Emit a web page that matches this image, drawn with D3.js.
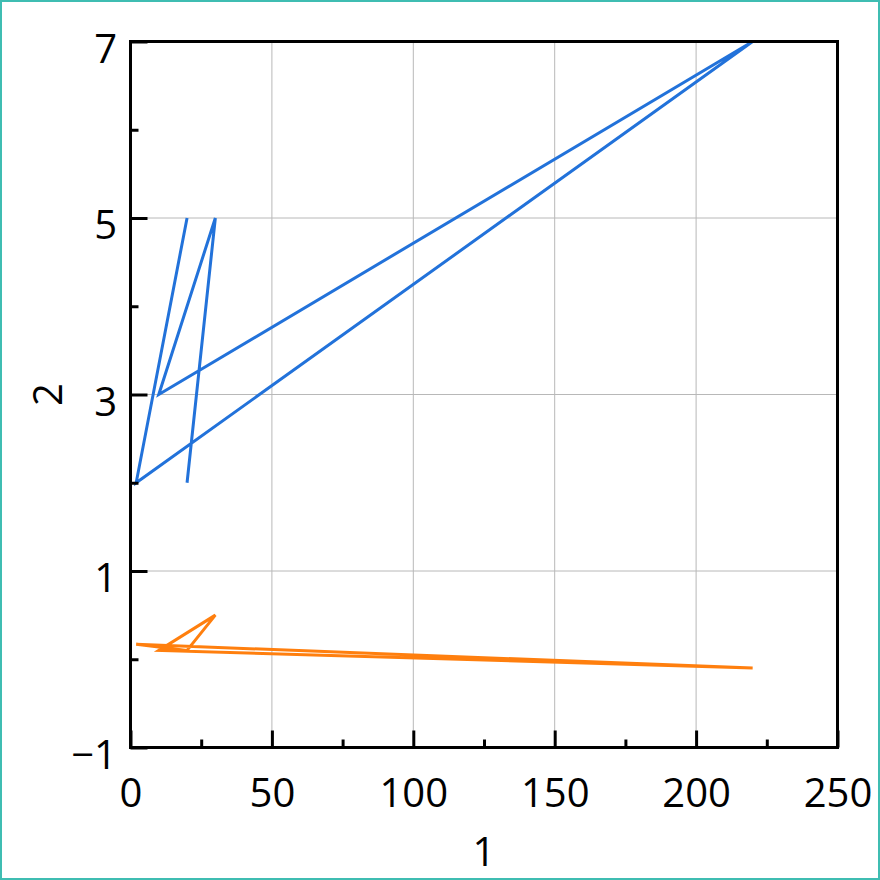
<!DOCTYPE html>
<html>
<head>
<meta charset="utf-8">
<script src="https://cdn.jsdelivr.net/npm/d3@7"></script>
<style>
  html, body { margin: 0; padding: 0; background: #fff; }
  svg { display: block; }
</style>
</head>
<body>
<div id="chart"></div>
<script>
// series data
const xValues = [20, 30, 10, 220, 2, 20];
const blueValues = [2, 5, 3, 7, 2, 5];
const orangeValues = [0.1, 0.5, 0.1, -0.1, 0.17, 0.1];

const xTicks = [0, 50, 100, 150, 200, 250];
const xMinorTicks = [25, 75, 125, 175, 225];
const yTicks = [-1, 1, 3, 5, 7];
const yMinorTicks = [0, 2, 4, 6];
const xTitle = "1";
const yTitle = "2";

const width = 880, height = 880;
const svg = d3.select("#chart").append("svg")
    .attr("width", width).attr("height", height);

// outer teal frame
svg.append("rect")
    .attr("x", 1).attr("y", 1)
    .attr("width", width - 2).attr("height", height - 2)
    .attr("fill", "#fff")
    .attr("stroke", "#3fbdb2")
    .attr("stroke-width", 2);

const x = d3.scaleLinear().domain([0, 250]).range([130.5, 837.5]);
const y = d3.scaleLinear().domain([-1, 7]).range([747.5, 41.5]);

const font = "'Open Sans', 'Noto Sans', sans-serif";

// grid
const grid = svg.append("g");
grid.selectAll("line.gx").data(xTicks.filter(d => d > 0 && d < 250)).enter()
    .append("line")
    .attr("x1", d => x(d)).attr("x2", d => x(d))
    .attr("y1", y(7)).attr("y2", y(-1))
    .attr("stroke", "#b8b8b8").attr("stroke-width", 1);
grid.selectAll("line.gy").data(yTicks.filter(d => d > -1 && d < 7)).enter()
    .append("line")
    .attr("x1", x(0)).attr("x2", x(250))
    .attr("y1", d => y(d)).attr("y2", d => y(d))
    .attr("stroke", "#b8b8b8").attr("stroke-width", 1);

// lines
const line = d3.line().x(d => x(d[0])).y(d => y(d[1]));
const series = [
    {values: blueValues, color: "#2272da"},
    {values: orangeValues, color: "#ff7f0e"}
];
svg.selectAll("path.series").data(series).enter()
    .append("path")
    .attr("class", "series")
    .attr("d", s => line(xValues.map((v, i) => [v, s.values[i]])))
    .attr("fill", "none")
    .attr("stroke", s => s.color)
    .attr("stroke-width", 3)
    .attr("stroke-linejoin", "miter");

// axes (ticks point inward)
const xAxis = d3.axisBottom(x).tickValues(xTicks).tickSize(-17).tickPadding(31.5)
    .tickFormat(d3.format("d"));
const xAxisG = svg.append("g").attr("transform", `translate(0, ${y(-1)})`).call(xAxis);

const xMinor = d3.axisBottom(x).tickValues(xMinorTicks).tickSize(-8).tickFormat("");
const xMinorG = svg.append("g").attr("transform", `translate(0, ${y(-1)})`).call(xMinor);

const yAxis = d3.axisLeft(y).tickValues(yTicks).tickSize(-17).tickPadding(13.5)
    .tickFormat(d => d < 0 ? "\u2212" + Math.abs(d) : d);
const yAxisG = svg.append("g").attr("transform", `translate(${x(0)}, 0)`).call(yAxis);

const yMinor = d3.axisLeft(y).tickValues(yMinorTicks).tickSize(-8).tickFormat("");
const yMinorG = svg.append("g").attr("transform", `translate(${x(0)}, 0)`).call(yMinor);

[xAxisG, xMinorG, yAxisG, yMinorG].forEach(g => {
    g.select(".domain").remove();
    g.selectAll("line").attr("stroke", "#000").attr("stroke-width", 3);
    g.selectAll("text")
        .attr("font-family", font)
        .attr("font-size", 40)
        .attr("fill", "#000");
});
yAxisG.selectAll("text").attr("dy", "0.52em");

// plot frame
svg.append("rect")
    .attr("x", x(0)).attr("y", y(7))
    .attr("width", x(250) - x(0)).attr("height", y(-1) - y(7))
    .attr("fill", "none")
    .attr("stroke", "#000")
    .attr("stroke-width", 3);

// axis titles
svg.append("text")
    .attr("x", (x(0) + x(250)) / 2).attr("y", 866)
    .attr("text-anchor", "middle")
    .attr("font-family", font).attr("font-size", 40)
    .text(xTitle);

svg.append("text")
    .attr("transform", `translate(62, ${(y(7) + y(-1)) / 2}) rotate(-90)`)
    .attr("text-anchor", "middle")
    .attr("font-family", font).attr("font-size", 40)
    .text(yTitle);
</script>
</body>
</html>
